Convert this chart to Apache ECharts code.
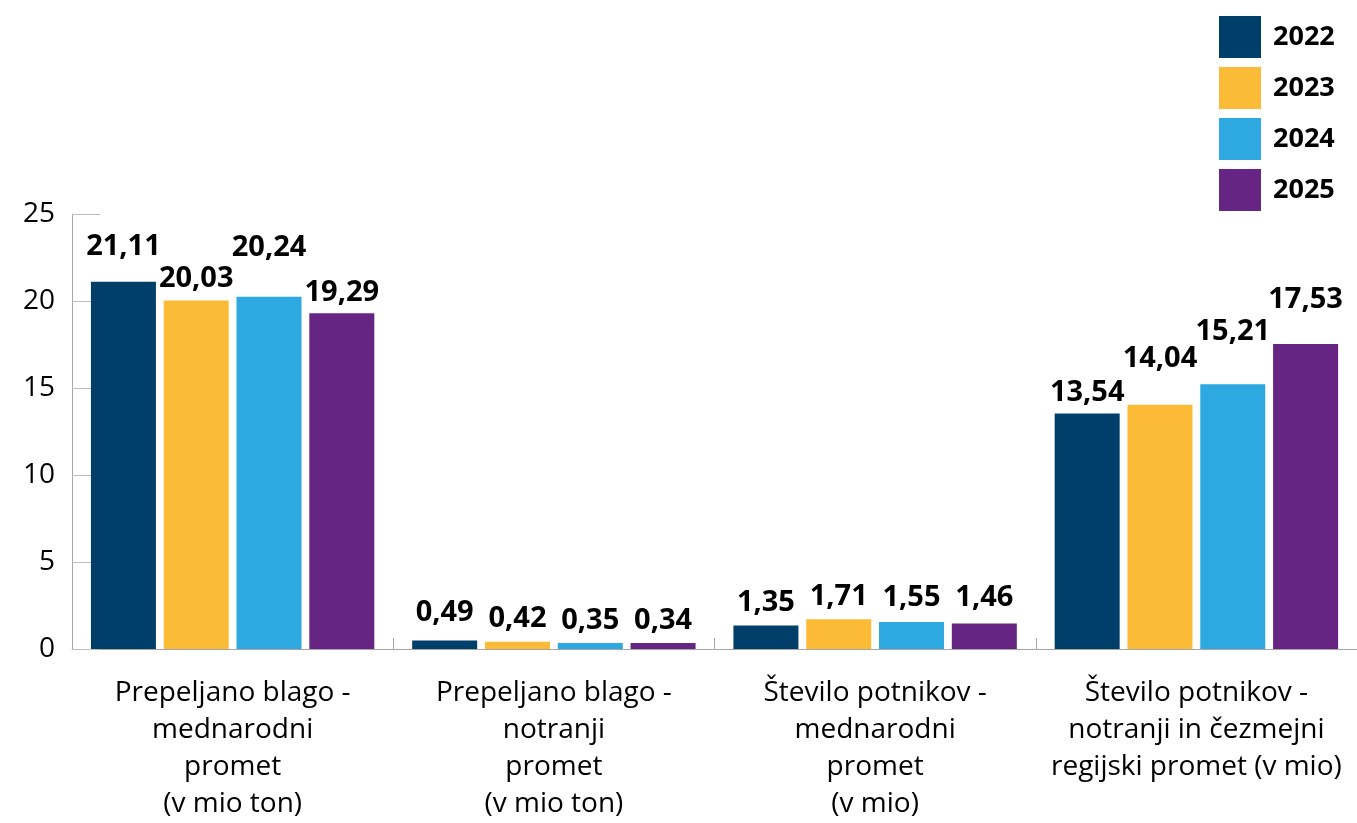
<!DOCTYPE html>
<html><head><meta charset="utf-8">
<script src="https://cdn.jsdelivr.net/npm/echarts@6/dist/echarts.min.js"></script>
<style>html,body{margin:0;padding:0;background:#fff}#c{width:1357px;height:823px}</style>
</head><body><div id="c"></div>
<script>
const categories = [
  "Prepeljano blago -\nmednarodni\npromet\n(v mio ton)",
  "Prepeljano blago -\nnotranji\npromet\n(v mio ton)",
  "Število potnikov -\nmednarodni\npromet\n(v mio)",
  "Število potnikov -\nnotranji in čezmejni\nregijski promet (v mio)"
];
const years = ["2022", "2023", "2024", "2025"];
const v2022 = [21.11, 0.49, 1.35, 13.54];
const v2023 = [20.03, 0.42, 1.71, 14.04];
const v2024 = [20.24, 0.35, 1.55, 15.21];
const v2025 = [19.29, 0.34, 1.46, 17.53];
const yTicks = [0, 5, 10, 15, 20, 25];

const colors = ["#003f69", "#fbbb37", "#2ea8e1", "#662582"];
// extra label lift (px) per series/category, styling only
const lift = [[12, 5, 0, -2], [-1, 0, 0, 23], [27, 0, 2, 30], [-2, 0, 3, 22]];
const values = [v2022, v2023, v2024, v2025];
const FONT = '"Open Sans", "Noto Sans", sans-serif';

const series = years.map((y, i) => ({
  name: y,
  type: 'bar',
  barWidth: 65,
  barGap: '12%',
  itemStyle: { color: colors[i] },
  data: values[i].map((v, j) => ({
    value: v,
    label: { offset: [0, -lift[i][j]] }
  })),
  label: {
    show: true,
    position: 'top',
    distance: 8,
    fontFamily: FONT,
    fontWeight: 'bold',
    fontSize: 29,
    color: '#000',
    formatter: p => p.value.toFixed(2).replace('.', ',')
  }
}));

const chart = echarts.init(document.getElementById('c'));
chart.setOption({
  animation: false,
  textStyle: { fontFamily: FONT },
  legend: {
    orient: 'vertical',
    left: 1219,
    top: 16,
    padding: 0,
    itemWidth: 42,
    itemHeight: 42,
    itemGap: 9,
    icon: 'rect',
    textStyle: { fontFamily: FONT, fontWeight: 'bold', fontSize: 27, color: '#000', padding: [0, 0, 0, 7] },
    data: years
  },
  grid: { left: 72, right: 0, top: 214, bottom: 172, containLabel: false },
  xAxis: {
    type: 'category',
    data: categories,
    axisLine: { lineStyle: { color: '#a6a6a6', width: 1 } },
    axisTick: { show: true, inside: true, length: 11, lineStyle: { color: '#a6a6a6' } },
    axisLabel: { margin: 26, fontSize: 28, lineHeight: 37, color: '#000', fontFamily: FONT, interval: 0 }
  },
  yAxis: {
    type: 'value',
    min: 0,
    max: 25,
    interval: 5,
    axisLine: { show: true, lineStyle: { color: '#a6a6a6' } },
    axisTick: { show: true, inside: true, length: 28, lineStyle: { color: '#bdbdbd' } },
    splitLine: { show: false },
    axisLabel: { fontSize: 28, color: '#000', margin: 17, fontFamily: FONT,
      formatter: v => yTicks.includes(v) ? String(v) : '' }
  },
  series: series
});
</script>
</body></html>
